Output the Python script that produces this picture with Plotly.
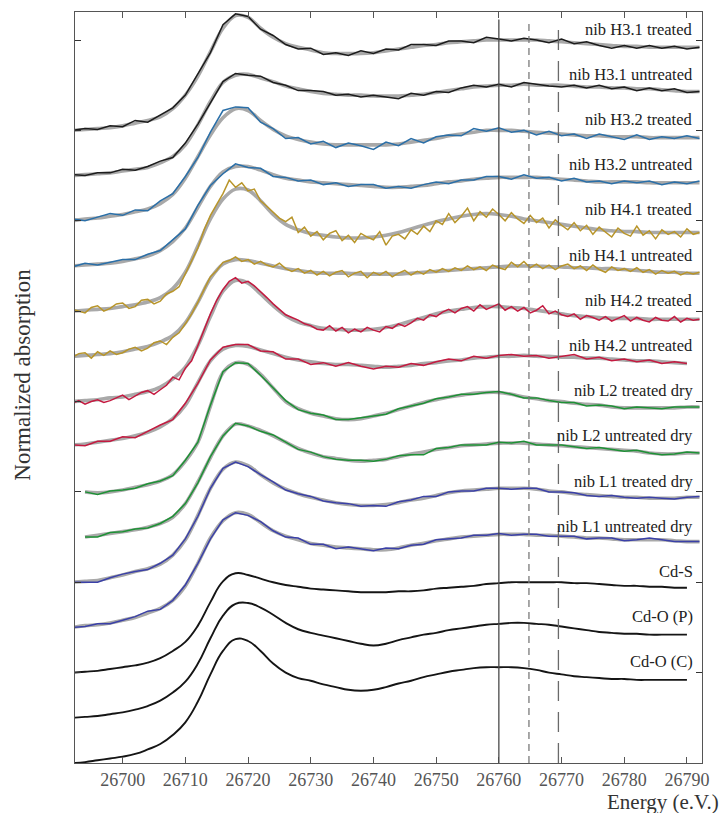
import plotly.graph_objects as go

# Energy grids (eV)
energy = [26692 + 2 * i for i in range(51)]
energy_fine = [26692 + i for i in range(101)]

labels = ["nib H3.1 treated", "nib H3.1 untreated", "nib H3.2 treated", "nib H3.2 untreated",
          "nib H4.1 treated", "nib H4.1 untreated", "nib H4.2 treated", "nib H4.2 untreated",
          "nib L2 treated dry", "nib L2 untreated dry", "nib L1 treated dry", "nib L1 untreated dry"]
ref_labels = ["Cd-S", "Cd-O (P)", "Cd-O (C)"]

sample_offsets = [7.0, 6.5, 6.0, 5.5, 5.0, 4.5, 4.0, 3.5, 3.0, 2.5, 2.0, 1.5]
ref_offsets = [1.0, 0.5, 0.0]

sample_colors = ["#1c1c1c", "#1c1c1c", "#2a6fa8", "#2a6fa8", "#b8952a", "#b8952a",
                 "#c41a40", "#c41a40", "#1d9135", "#1d9135", "#3a40a8", "#3a40a8"]

fit_H31t = [0.00,0.01,0.02,0.03,0.05,0.08,0.11,0.15,0.24,0.39,0.60,0.87,1.13,1.27,1.25,1.13,1.03,0.96,0.92,0.89,0.86,0.85,0.85,0.85,0.86,0.88,0.90,0.92,0.94,0.95,0.97,0.98,0.99,1.00,1.00,1.00,1.00,1.00,0.99,0.98,0.97,0.96,0.95,0.94,0.93,0.93,0.92,0.92,0.92,0.92,0.92]
dat_H31t = [0.00,0.02,0.01,0.05,0.04,0.11,0.09,0.17,0.25,0.39,0.63,0.86,1.17,1.29,1.26,1.12,1.05,0.95,0.90,0.91,0.84,0.86,0.83,0.88,0.85,0.90,0.89,0.95,0.95,0.94,0.99,0.99,0.97,1.03,1.01,0.99,1.02,1.00,0.97,1.01,0.96,0.98,0.94,0.91,0.94,0.91,0.94,0.91,0.93,0.90,0.92]

fit_H31u = [0.00,0.01,0.02,0.03,0.05,0.07,0.09,0.14,0.21,0.34,0.56,0.82,1.03,1.11,1.12,1.08,1.04,0.99,0.96,0.93,0.91,0.90,0.89,0.89,0.88,0.88,0.88,0.89,0.90,0.92,0.94,0.96,0.98,0.99,1.00,1.00,1.01,1.00,1.00,1.00,0.99,0.98,0.98,0.97,0.97,0.96,0.96,0.95,0.94,0.93,0.93]
dat_H31u = [0.01,0.00,0.03,0.03,0.07,0.06,0.10,0.16,0.20,0.36,0.57,0.80,1.04,1.13,1.11,1.10,1.03,1.00,0.94,0.94,0.93,0.89,0.90,0.87,0.89,0.87,0.85,0.91,0.89,0.93,0.92,0.97,1.00,0.98,1.01,0.98,1.03,1.01,0.99,0.98,1.00,0.97,1.00,0.96,0.98,0.94,0.97,0.94,0.96,0.92,0.93]

fit_H32t = [0.00,0.02,0.03,0.05,0.07,0.10,0.13,0.19,0.29,0.47,0.71,0.95,1.14,1.24,1.22,1.11,1.01,0.94,0.90,0.87,0.85,0.84,0.84,0.84,0.84,0.84,0.85,0.87,0.89,0.91,0.94,0.96,0.98,1.00,1.00,1.00,0.99,0.98,0.97,0.96,0.95,0.94,0.94,0.93,0.93,0.93,0.92,0.92,0.92,0.92,0.92]
dat_H32t = [0.02,0.00,0.04,0.08,0.06,0.12,0.11,0.22,0.30,0.49,0.70,0.98,1.22,1.26,1.25,1.09,1.02,0.91,0.92,0.85,0.88,0.81,0.86,0.83,0.79,0.87,0.83,0.91,0.86,0.93,0.95,0.94,1.02,0.99,1.03,0.98,1.00,0.95,0.99,0.94,0.96,0.91,0.96,0.93,0.90,0.95,0.90,0.93,0.91,0.94,0.91]

fit_H32u = [0.00,0.01,0.02,0.03,0.05,0.08,0.11,0.17,0.27,0.42,0.65,0.88,1.04,1.10,1.10,1.06,1.01,0.97,0.95,0.93,0.92,0.91,0.90,0.89,0.88,0.87,0.87,0.88,0.89,0.91,0.93,0.94,0.96,0.97,0.98,0.98,0.98,0.98,0.97,0.96,0.95,0.94,0.93,0.93,0.93,0.93,0.92,0.92,0.92,0.92,0.92]
dat_H32u = [-0.01,0.03,0.01,0.04,0.07,0.07,0.13,0.17,0.29,0.41,0.67,0.89,1.02,1.13,1.09,1.08,0.99,0.98,0.94,0.95,0.90,0.92,0.88,0.90,0.90,0.86,0.88,0.86,0.90,0.93,0.91,0.95,0.95,0.99,0.99,0.96,1.01,0.97,0.98,0.94,0.97,0.93,0.94,0.91,0.94,0.92,0.94,0.90,0.93,0.91,0.94]

fit_H41t = [0.00,0.01,0.02,0.03,0.05,0.07,0.10,0.15,0.25,0.43,0.72,1.02,1.24,1.35,1.34,1.22,1.07,0.96,0.90,0.86,0.84,0.82,0.81,0.81,0.82,0.84,0.87,0.91,0.95,0.99,1.02,1.05,1.07,1.08,1.07,1.05,1.02,1.00,0.98,0.96,0.94,0.92,0.90,0.89,0.88,0.88,0.87,0.87,0.87,0.87,0.87]
dat_H41t = [0.02,0.00,-0.02,0.04,0.06,0.00,0.03,0.08,0.09,0.03,
            0.05,0.12,0.13,0.08,0.11,0.19,0.22,0.27,0.41,0.55,
            0.70,0.90,1.06,1.18,1.30,1.45,1.37,1.42,1.33,1.35,
            1.22,1.16,1.10,1.03,0.99,1.04,0.87,0.93,0.83,0.88,
            0.79,0.86,0.89,0.78,0.84,0.76,0.86,0.82,0.79,0.88,
            0.73,0.83,0.85,0.80,0.90,0.85,0.94,0.88,1.00,0.96,
            1.08,0.98,1.05,1.14,1.00,1.10,1.04,1.13,1.07,1.00,
            1.09,1.02,0.97,1.06,0.98,1.03,0.92,1.01,0.95,0.90,
            0.98,0.89,0.95,0.85,0.93,0.88,0.82,0.92,0.86,0.83,
            0.94,0.84,0.89,0.80,0.90,0.85,0.88,0.82,0.91,0.85,
            0.87]

fit_H41u = [0.00,0.01,0.02,0.03,0.05,0.08,0.11,0.16,0.23,0.37,0.60,0.86,1.02,1.07,1.06,1.03,1.00,0.97,0.95,0.93,0.92,0.92,0.92,0.91,0.91,0.91,0.91,0.92,0.93,0.94,0.95,0.96,0.97,0.98,0.99,1.00,1.00,1.00,0.99,0.99,0.98,0.98,0.97,0.97,0.96,0.95,0.94,0.93,0.93,0.92,0.92]
dat_H41u = [-0.01,0.03,0.04,-0.02,0.05,0.01,0.06,0.02,0.04,0.08,
            0.10,0.06,0.09,0.15,0.17,0.13,0.21,0.26,0.36,0.47,
            0.60,0.74,0.88,0.95,1.04,1.06,1.10,1.05,1.07,1.02,
            1.05,1.01,0.99,1.03,0.97,0.94,0.97,0.92,0.95,0.90,
            0.94,0.89,0.93,0.95,0.88,0.92,0.94,0.87,0.93,0.90,
            0.94,0.88,0.92,0.95,0.90,0.94,0.91,0.96,0.93,0.97,
            0.94,0.98,0.95,1.00,0.96,0.99,0.95,1.01,0.98,0.96,
            1.04,0.99,1.05,0.98,1.02,0.97,1.01,0.96,1.00,1.02,
            0.97,1.00,0.95,1.01,0.96,0.93,0.99,0.95,0.97,0.94,
            0.98,0.93,0.96,0.91,0.95,0.92,0.94,0.90,0.93,0.91,
            0.93]

fit_H42t = [0.00,0.01,0.02,0.04,0.05,0.08,0.11,0.16,0.25,0.38,0.62,0.94,1.22,1.34,1.31,1.19,1.06,0.95,0.88,0.84,0.81,0.80,0.79,0.79,0.80,0.82,0.85,0.89,0.93,0.97,1.00,1.02,1.04,1.05,1.05,1.04,1.03,1.01,0.99,0.97,0.95,0.94,0.93,0.92,0.92,0.92,0.91,0.91,0.91,0.91,0.91]
dat_H42t = [-0.02,0.01,-0.03,0.00,0.02,-0.01,0.01,0.04,0.07,0.02,
            0.06,0.10,0.12,0.08,0.13,0.18,0.27,0.24,0.37,0.45,
            0.62,0.80,0.97,1.12,1.24,1.33,1.37,1.31,1.33,1.28,
            1.22,1.15,1.08,1.02,0.96,0.93,0.90,0.86,0.84,0.80,
            0.79,0.84,0.78,0.82,0.76,0.80,0.77,0.82,0.79,0.77,
            0.83,0.81,0.86,0.83,0.87,0.92,0.90,0.96,0.94,0.99,
            1.02,0.98,1.03,1.05,1.00,1.07,1.02,1.05,1.08,1.01,
            1.05,1.00,1.04,0.98,1.01,1.06,0.97,1.00,0.96,0.94,
            0.97,0.91,0.95,0.93,0.90,0.94,0.89,0.92,0.95,0.89,
            0.93,0.90,0.88,0.93,0.90,0.89,0.94,0.88,0.92,0.90,
            0.91]

fit_H42u = [0.02,0.03,0.05,0.07,0.09,0.12,0.16,0.22,0.31,0.46,0.71,0.95,1.08,1.12,1.11,1.07,1.03,0.99,0.96,0.94,0.92,0.91,0.91,0.90,0.89,0.88,0.89,0.90,0.92,0.93,0.95,0.96,0.98,0.99,1.00,1.00,1.01,1.00,1.00,0.99,0.99,0.98,0.98,0.97,0.96,0.95,0.95,0.94,0.93,0.92,None]
dat_H42u = [0.02,0.01,0.06,0.06,0.11,0.10,0.17,0.24,0.30,0.48,0.70,0.96,1.10,1.13,1.13,1.06,1.05,0.97,0.97,0.91,0.93,0.89,0.93,0.89,0.86,0.89,0.88,0.92,0.90,0.94,0.97,0.95,1.00,0.98,1.01,1.02,1.00,1.01,0.98,1.00,1.02,0.97,0.99,0.95,0.97,0.94,0.96,0.92,0.94,0.92,None]

fit_L2t = [None,0.00,-0.01,0.00,0.02,0.05,0.08,0.12,0.19,0.34,0.55,0.95,1.32,1.43,1.41,1.30,1.15,1.00,0.92,0.87,0.84,0.81,0.80,0.81,0.84,0.87,0.91,0.95,0.99,1.02,1.05,1.07,1.09,1.10,1.10,1.08,1.05,1.03,1.01,1.00,0.98,0.97,0.96,0.94,0.93,0.93,0.93,0.93,0.93,0.94,0.94]
dat_L2t = [None,0.00,-0.03,0.01,0.02,0.04,0.09,0.12,0.18,0.35,0.55,0.96,1.33,1.43,1.42,1.29,1.15,1.01,0.91,0.87,0.85,0.80,0.80,0.82,0.84,0.86,0.92,0.95,0.98,1.03,1.05,1.08,1.08,1.10,1.11,1.08,1.04,1.04,1.01,0.99,0.99,0.95,0.96,0.95,0.92,0.94,0.93,0.92,0.94,0.94,0.94]

fit_L2u = [None,0.00,0.02,0.04,0.06,0.08,0.11,0.15,0.22,0.37,0.61,0.88,1.12,1.25,1.23,1.18,1.12,1.05,0.98,0.93,0.89,0.87,0.85,0.84,0.85,0.86,0.89,0.92,0.94,0.97,0.99,1.01,1.02,1.03,1.04,1.04,1.04,1.03,1.02,1.01,1.00,0.99,0.98,0.97,0.96,0.95,0.93,0.92,0.92,0.93,0.93]
dat_L2u = [None,0.00,0.00,0.05,0.06,0.09,0.10,0.15,0.23,0.37,0.60,0.89,1.12,1.26,1.23,1.17,1.13,1.05,0.97,0.94,0.89,0.86,0.85,0.85,0.84,0.86,0.90,0.91,0.91,0.98,0.99,1.02,1.02,1.02,1.05,1.04,1.06,1.02,1.02,1.02,1.00,0.98,0.99,0.97,0.95,0.96,0.93,0.91,0.92,0.94,0.93]

fit_L1t = [0.00,0.01,0.02,0.05,0.08,0.12,0.15,0.20,0.30,0.47,0.74,1.04,1.25,1.33,1.29,1.19,1.10,1.03,0.98,0.94,0.91,0.88,0.86,0.85,0.85,0.86,0.88,0.91,0.93,0.96,0.99,1.01,1.02,1.03,1.04,1.04,1.04,1.03,1.01,1.00,0.98,0.97,0.96,0.95,0.94,0.94,0.93,0.93,0.93,0.94,0.94]
dat_L1t = [0.00,0.00,0.00,0.05,0.09,0.12,0.14,0.21,0.30,0.48,0.73,1.04,1.26,1.33,1.28,1.19,1.11,1.02,0.98,0.95,0.90,0.88,0.87,0.84,0.85,0.84,0.89,0.91,0.95,0.95,1.00,1.01,1.01,1.04,1.04,1.03,1.04,1.04,1.00,1.00,0.99,0.96,0.95,0.96,0.94,0.93,0.94,0.93,0.92,0.94,0.95]

fit_L1u = [0.00,0.02,0.03,0.05,0.08,0.11,0.16,0.21,0.30,0.46,0.71,0.99,1.18,1.27,1.25,1.16,1.07,1.01,0.97,0.93,0.91,0.89,0.88,0.87,0.86,0.86,0.88,0.91,0.93,0.96,0.98,1.00,1.01,1.02,1.03,1.03,1.03,1.02,1.02,1.01,1.00,0.99,0.99,0.98,0.97,0.97,0.97,0.97,0.96,0.95,0.95]
dat_L1u = [0.00,0.01,0.04,0.04,0.08,0.12,0.18,0.20,0.30,0.47,0.71,0.98,1.19,1.27,1.24,1.17,1.07,1.00,0.99,0.92,0.92,0.87,0.89,0.87,0.85,0.88,0.87,0.91,0.92,0.97,0.98,0.99,1.02,1.02,1.04,1.02,1.03,1.03,1.01,1.01,1.01,0.98,0.99,0.99,0.96,0.97,0.99,0.97,0.95,0.95,0.95]

ref_CdS = [0.00,0.01,0.02,0.04,0.06,0.08,0.11,0.16,0.24,0.34,0.52,0.78,1.01,1.10,1.08,1.04,1.00,0.97,0.95,0.93,0.92,0.91,0.90,0.89,0.89,0.89,0.90,0.90,0.91,0.93,0.94,0.95,0.96,0.98,0.99,1.00,1.00,1.00,1.00,1.00,0.99,0.99,0.98,0.97,0.96,0.96,0.95,0.95,0.94,0.94,None]
ref_CdOP = [0.00,0.01,0.02,0.04,0.06,0.09,0.13,0.19,0.28,0.40,0.60,0.88,1.13,1.26,1.27,1.22,1.14,1.05,0.98,0.94,0.91,0.88,0.85,0.82,0.80,0.82,0.86,0.89,0.92,0.94,0.97,0.99,1.01,1.03,1.04,1.05,1.05,1.04,1.03,1.01,0.99,0.97,0.95,0.94,0.93,0.93,0.92,0.92,0.92,0.92,None]
ref_CdOC = [0.00,0.01,0.03,0.05,0.07,0.10,0.15,0.21,0.31,0.45,0.68,0.98,1.24,1.37,1.35,1.24,1.10,1.00,0.94,0.91,0.87,0.84,0.81,0.80,0.81,0.84,0.88,0.91,0.95,0.98,1.01,1.03,1.05,1.06,1.06,1.06,1.05,1.03,1.00,0.98,0.96,0.95,0.94,0.93,0.93,0.92,0.92,0.92,0.92,0.92,None]

sample_fits = [fit_H31t, fit_H31u, fit_H32t, fit_H32u, fit_H41t, fit_H41u,
               fit_H42t, fit_H42u, fit_L2t, fit_L2u, fit_L1t, fit_L1u]
sample_data = [dat_H31t, dat_H31u, dat_H32t, dat_H32u, dat_H41t, dat_H41u,
               dat_H42t, dat_H42u, dat_L2t, dat_L2u, dat_L1t, dat_L1u]
sample_data_energy = [energy, energy, energy, energy, energy_fine, energy_fine,
                      energy_fine, energy, energy, energy, energy, energy]
ref_data = [ref_CdS, ref_CdOP, ref_CdOC]

# energies marked with vertical lines
line_energies = [26760.0, 26764.8, 26769.5]
line_dashes = ["solid", "7px,5px", "20px,11px"]
line_colors = ["#4a4a4a", "#7a7a7a", "#6a6a6a"]

x_ticks = [26700, 26710, 26720, 26730, 26740, 26750, 26760, 26770, 26780, 26790]

FONT = "Liberation Serif"


def shift(vals, off):
    return [None if v is None else v + off for v in vals]


fig = go.Figure()

for fit, dat, de, off, col, lab in zip(sample_fits, sample_data, sample_data_energy,
                                       sample_offsets, sample_colors, labels):
    fig.add_trace(go.Scatter(x=energy, y=shift(fit, off), mode="lines",
                             line=dict(color="#a9a9a9", width=3.6, shape="spline", smoothing=1.0),
                             hoverinfo="skip", showlegend=False))
    fig.add_trace(go.Scatter(x=de, y=shift(dat, off), mode="lines",
                             line=dict(color=col, width=1.5), name=lab, showlegend=False))

for ref, off, lab in zip(ref_data, ref_offsets, ref_labels):
    fig.add_trace(go.Scatter(x=energy, y=shift(ref, off), mode="lines",
                             line=dict(color="#151515", width=1.9, shape="spline", smoothing=1.3),
                             name=lab, showlegend=False))

for xe, dsh, lc in zip(line_energies, line_dashes, line_colors):
    fig.add_vline(x=xe, line=dict(color=lc, width=1.3, dash=dsh), y0=0, y1=0.99, layer="above")

for lab, off in zip(labels + ref_labels, sample_offsets + ref_offsets):
    fig.add_annotation(x=26791.3, y=off + 1.12, xref="x", yref="y", text=lab,
                       showarrow=False, xanchor="right", yanchor="middle",
                       font=dict(family=FONT, size=16.5, color="#222222"))

fig.add_annotation(x=1.03, y=-0.052, xref="paper", yref="paper", text="Energy (e.V.)",
                   showarrow=False, xanchor="right", yanchor="middle",
                   font=dict(family=FONT, size=21, color="#333333"))
fig.add_annotation(x=-0.083, y=0.517, xref="paper", yref="paper", text="Normalized absorption",
                   showarrow=False, textangle=-90, xanchor="center", yanchor="middle",
                   font=dict(family=FONT, size=23, color="#333333"))

fig.update_layout(
    width=723, height=813,
    margin=dict(l=75, r=21, t=12, b=50),
    paper_bgcolor="white", plot_bgcolor="white",
    showlegend=False,
    font=dict(family=FONT),
)
fig.update_xaxes(range=[26692.4, 26792.4], tickvals=x_ticks, tickformat="d",
                 ticks="inside", ticklen=6,
                 tickcolor="#555555", showline=True, linecolor="#555555", linewidth=1.2,
                 mirror="ticks", showgrid=False, zeroline=False,
                 tickfont=dict(family=FONT, size=18, color="#555555"))
fig.update_yaxes(range=[0, 8.31], dtick=1, tick0=0, ticks="inside", ticklen=6,
                 tickcolor="#333333", showline=True, linecolor="#555555", linewidth=1.2,
                 mirror="ticks", showgrid=False, zeroline=False, showticklabels=False)

fig.write_html("out.html", config={"displayModeBar": False},
               post_script="document.body.style.margin='0';")
